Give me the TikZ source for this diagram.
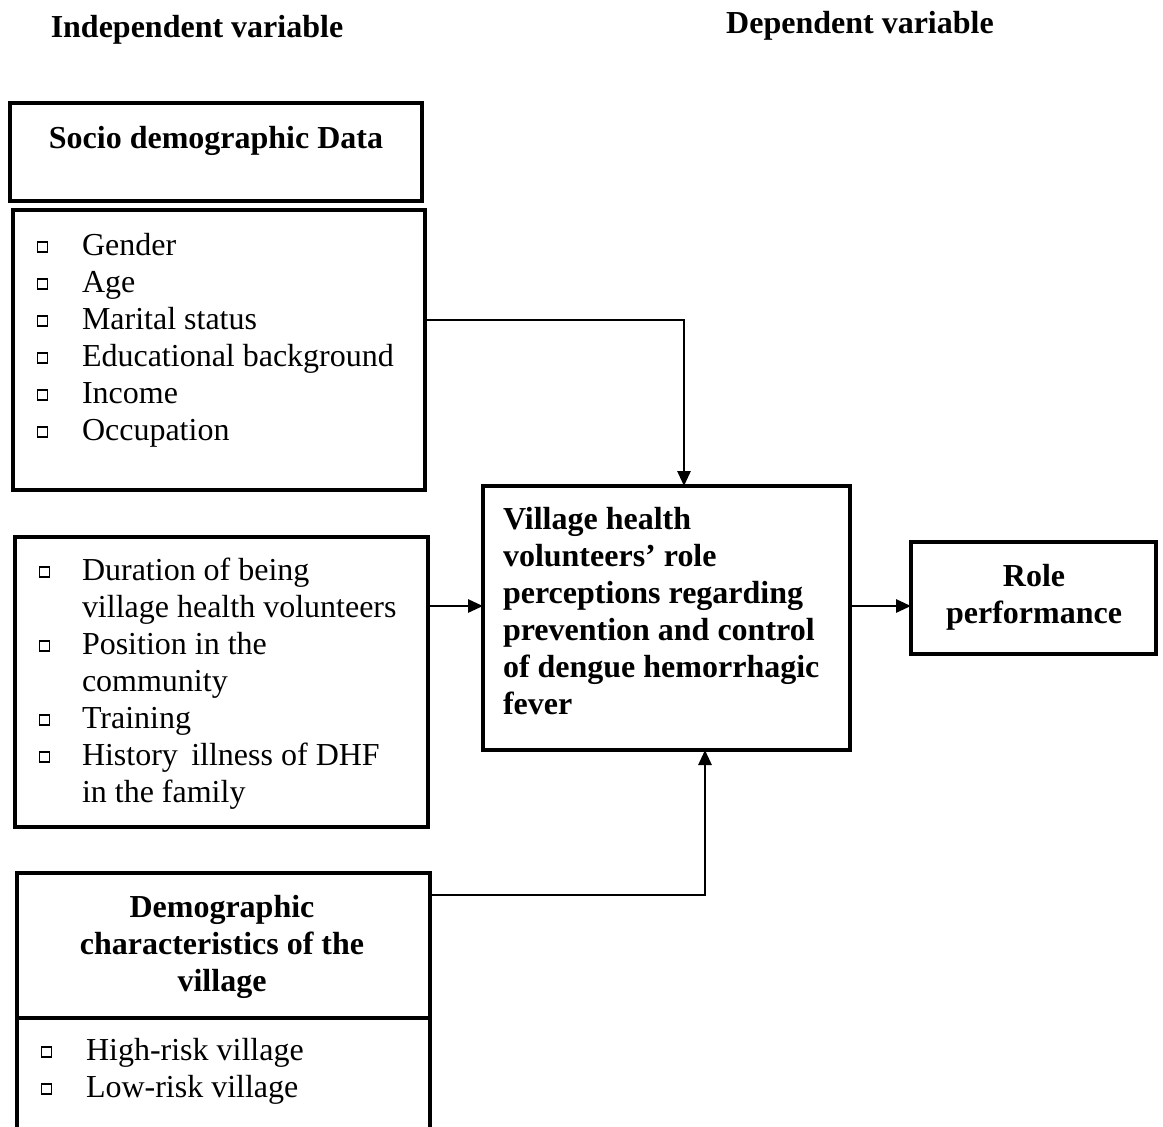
\documentclass[tikz,border=0pt]{standalone}
\usepackage{fontspec}
\setmainfont{Liberation Serif}
\usetikzlibrary{arrows.meta}
\usetikzlibrary{fit}
\newcommand{\qbox}{\raisebox{0.14em}{\setlength{\fboxsep}{0pt}\setlength{\fboxrule}{0.65pt}\fbox{\rule{0pt}{4.4pt}\rule{4.4pt}{0pt}}}}

\begin{document}
\begin{tikzpicture}[y=-0.5pt, x=0.5pt, inner sep=0pt, outer sep=0pt,
  font=\fontsize{16}{18.5}\selectfont,
  frame/.style={draw, line width=1.6pt},
  link/.style={line width=1.4pt, -{Triangle[length=7.5pt,width=6.5pt]}}]

\clip (0,0) rectangle (1163,1126);

% headings
\node (indep) at (197,30) {\bfseries Independent variable};
\node (dep)   at (860,26) {\bfseries Dependent variable};

% socio demographic data
\node[frame, fit={(10,103) (422,201)}] (socio) {};
\node (sociotitle) at (216,141) {\bfseries Socio demographic Data};
\node[frame, fit={(13,210) (425,490)}] (sociobox) {};
\node[anchor=north west] (sociolist) at (37,230) {\begin{tabular}{@{}c@{\hspace{16.8pt}}l@{}}
  \qbox & Gender\\
  \qbox & Age\\
  \qbox & Marital status\\
  \qbox & Educational background\\
  \qbox & Income\\
  \qbox & Occupation
\end{tabular}};

% volunteer data
\node[frame, fit={(15,537) (428,827)}] (vhvbox) {};
\node[anchor=north west] (vhvlist) at (39,555) {\begin{tabular}{@{}c@{\hspace{15.8pt}}l@{}}
  \qbox & Duration of being\\
        & village health volunteers\\
  \qbox & Position in the\\
        & community\\
  \qbox & Training\\
  \qbox & History\, illness of DHF\\
        & in the family
\end{tabular}};

% village characteristics
\node[frame, fit={(17,873) (430,1018)}] (village) {};
\node[align=center] (villagetitle) at (222,947) {\bfseries Demographic\\\bfseries characteristics of the\\\bfseries village};
\node[frame, fit={(17,1018) (430,1150)}] (villagebox) {};
\node[anchor=north west] (villagelist) at (41,1035) {\begin{tabular}{@{}c@{\hspace{16.8pt}}l@{}}
  \qbox & High-risk village\\
  \qbox & Low-risk village
\end{tabular}};

% role perceptions
\node[frame, fit={(483,486) (850,750)}] (centre) {};
\node[anchor=north west] (centretext) at (503,504) {\bfseries\begin{tabular}{@{}l@{}}
  Village health\\
  volunteers’ role\\
  perceptions regarding\\
  prevention and control\\
  of dengue hemorrhagic\\
  fever
\end{tabular}};

% role performance
\node[frame, fit={(911,542) (1156,654)}] (role) {};
\node[align=center] (roletext) at (1034,597) {\bfseries Role\\\bfseries performance};

% arrows
\draw[link] (sociobox.east |- 0,320) -| (centre.north -| 684,0);
\draw[link] (vhvbox.east |- 0,606) -- (centre.west |- 0,606);
\draw[link] (village.east |- 0,895) -| (centre.south -| 705,0);
\draw[link] (centre.east |- 0,606) -- (role.west |- 0,606);

\end{tikzpicture}
\end{document}
